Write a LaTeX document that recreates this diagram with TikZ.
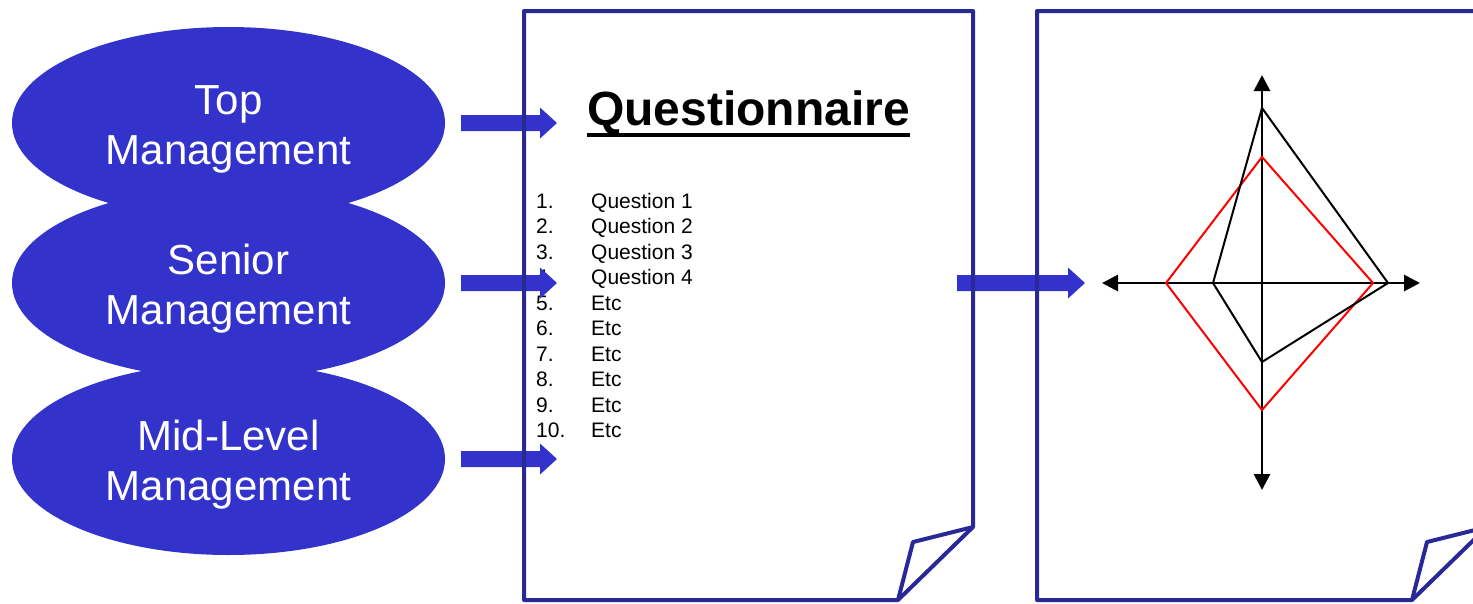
\documentclass[tikz,border=0pt]{standalone}
\usepackage{fontspec}
\setmainfont{Liberation Sans}
\usetikzlibrary{shapes.geometric,arrows.meta}
\definecolor{ellblue}{RGB}{51,51,204}
\definecolor{pageblue}{RGB}{40,40,150}
\definecolor{chartred}{RGB}{255,0,0}
\tikzset{
  level/.style={ellipse, fill=ellblue, minimum width=433pt, minimum height=192pt,
    inner sep=0pt},
  leveltext/.style={inner sep=0pt, text=white, align=center, font=\fontsize{42}{50}\selectfont},
  arrowfill/.style={fill=ellblue},
  pageline/.style={draw=pageblue, line width=4pt, line join=round},
  listtext/.style={anchor=base west, inner sep=0pt, font=\fontsize{21}{24}\selectfont},
  axisline/.style={draw=black, line width=2.8pt,
    {Triangle[length=16pt,width=16pt]}-{Triangle[length=16pt,width=16pt]}},
  polyline/.style={line width=2pt, line join=miter}
}
\newcommand\blockarrow[3]{%
  \fill[arrowfill] (#1,#3-8) -- (#2-17,#3-8) -- (#2-17,#3-15.5) -- (#2,#3)
    -- (#2-17,#3+15.5) -- (#2-17,#3+8) -- (#1,#3+8) -- cycle;}
\begin{document}
\begin{tikzpicture}[x=1pt,y=-1pt]
\useasboundingbox (0,0) rectangle (1473,603);
\clip (0,0) rectangle (1473,603);

% levels
\node[level] (topm) at (228.5,123) {};
\node[level] (senm) at (228.5,283) {};
\node[level] (midm) at (228.5,459) {};
\node[leveltext] (topt) at ([yshift=-6pt]topm.center) {Top\\Management};
\node[leveltext] (sent) at ([yshift=-6pt]senm.center) {Senior\\Management};
\node[leveltext] (midt) at ([yshift=-6pt]midm.center) {Mid-Level\\Management};

% questionnaire text
\node[anchor=base west, inner sep=0pt, font=\bfseries\fontsize{48}{50}\selectfont] (title) at (587,125) {Questionnaire};
\draw[line width=4pt] ([yshift=-10pt]title.base west) -- ([yshift=-10pt]title.base east);

\foreach \k/\q in {1/Question 1,2/Question 2,3/Question 3,4/Question 4,5/Etc,6/Etc,7/Etc,8/Etc,9/Etc,10/Etc}{
  \node[listtext] (num\k) at (536,{208+25.5*(\k-1)}) {\k.};
  \node[listtext] (q\k) at (591,{208+25.5*(\k-1)}) {\q};
}

% block arrows
\blockarrow{461}{557}{123}
\blockarrow{461}{557}{283}
\blockarrow{461}{557}{459}
\blockarrow{957}{1085}{283}

% pages
\draw[pageline] (524,11) -- (973,11) -- (973,527) -- (898,600) -- (524,600) -- cycle;
\draw[pageline] (973,527) -- (913,542) -- (898,600);
\draw[pageline] (1037,11) -- (1487,11) -- (1487,527) -- (1412,600) -- (1037,600) -- cycle;
\draw[pageline] (1487,527) -- (1427,542) -- (1412,600);

% chart
\coordinate (ctop) at (1262,75);
\coordinate (cbot) at (1262,490);
\coordinate (cleft) at (1102,283);
\coordinate (cright) at (1420,283);
\draw[axisline] (cbot) -- (ctop);
\draw[axisline] (cleft) -- (cright);
\draw[polyline, draw=chartred] (1262,157) -- (1373,283) -- (1262,410) -- (1166,283) -- cycle;
\draw[polyline, draw=black] (1262,108) -- (1388,283) -- (1262,362) -- (1213,283) -- cycle;
\end{tikzpicture}
\end{document}
